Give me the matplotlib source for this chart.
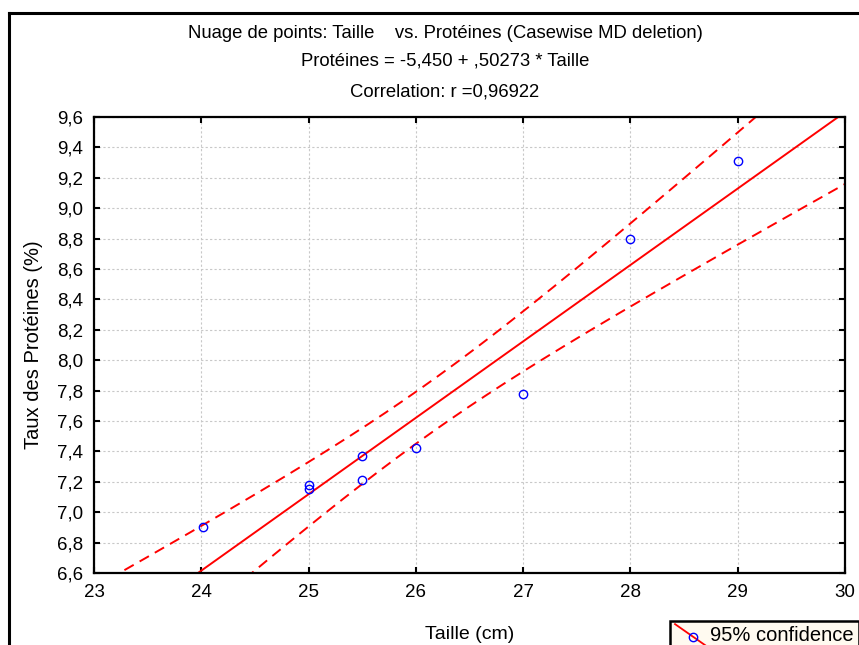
import numpy as np
import matplotlib
matplotlib.use("Agg")
import matplotlib.pyplot as plt
from matplotlib.lines import Line2D
from matplotlib.legend_handler import HandlerLine2D
from matplotlib.ticker import FuncFormatter

plt.rcParams['font.family'] = ['Liberation Sans', 'DejaVu Sans']

# data
taille = [24.02, 25.0, 25.0, 25.5, 25.5, 26.0, 27.0, 28.0, 29.0]
proteines = [6.90, 7.18, 7.15, 7.37, 7.21, 7.42, 7.78, 8.80, 9.31]

# fitted equation shown in the title
intercept = -5.450
slope = 0.50273
t_975 = 2.3646  # Student t, 7 dof

x_ticks = [23, 24, 25, 26, 27, 28, 29, 30]
y_ticks = [6.6, 6.8, 7.0, 7.2, 7.4, 7.6, 7.8, 8.0, 8.2, 8.4, 8.6, 8.8, 9.0, 9.2, 9.4, 9.6]


class HandlerDiagonal(HandlerLine2D):
    """legend handle drawn as a diagonal line with the marker in the middle"""
    def create_artists(self, legend, orig_handle, xdescent, ydescent,
                       width, height, fontsize, trans):
        x0, x1 = -xdescent, -xdescent + width
        y0, y1 = height * 1.2, -height * 0.3
        line = Line2D([x0, x1], [y0, y1], color='red', lw=1.3)
        mk = Line2D([x0 + 0.6 * width], [y0 + 0.6 * (y1 - y0)], marker='o',
                    ls='none', mfc='none', mec='blue', ms=6, mew=1)
        line.set_transform(trans)
        mk.set_transform(trans)
        return [line, mk]


fig = plt.figure(figsize=(8.59, 6.45), dpi=100)
ax = fig.add_axes([94 / 859, 1 - 573 / 645, (845 - 94) / 859, (573 - 117) / 645])

x = np.array(taille)
y = np.array(proteines)
n = len(x)
pred = intercept + slope * x
s = np.sqrt(np.sum((y - pred) ** 2) / (n - 2))
sxx = np.sum((x - x.mean()) ** 2)

xs = np.linspace(23, 30, 300)
fit = intercept + slope * xs
half = t_975 * s * np.sqrt(1 / n + (xs - x.mean()) ** 2 / sxx)

ax.plot(xs, fit, color='red', lw=1.4)
ax.plot(xs, fit + half, color='red', lw=1.4, ls=(0, (5.5, 3.5)))
ax.plot(xs, fit - half, color='red', lw=1.4, ls=(0, (5.5, 3.5)))
ax.plot(x, y, 'o', mfc='none', mec='blue', ms=6, mew=1)

ax.set_xlim(23, 30)
ax.set_ylim(6.6, 9.6)
ax.set_xticks(x_ticks)
ax.set_yticks(y_ticks)
comma = FuncFormatter(lambda v, p: f"{v:.1f}".replace('.', ','))
ax.yaxis.set_major_formatter(comma)
ax.xaxis.set_major_formatter(FuncFormatter(lambda v, p: f"{v:.0f}"))
ax.tick_params(direction='in', length=4, width=1.5, top=True, right=True,
               labelsize=13.5, pad=8)
ax.grid(True, color='#c8c8c8', ls=(0, (2, 2)), lw=0.8)
for sp in ax.spines.values():
    sp.set_linewidth(1.6)

ax.set_xlabel('Taille (cm)', fontsize=14, labelpad=18)
ax.set_ylabel('Taux des Protéines (%)', fontsize=14.5, labelpad=10)

title_kw = dict(ha='center', va='center', fontsize=13.3)
fig.text(445 / 859, 1 - 33 / 645,
         'Nuage de points: Taille    vs. Protéines (Casewise MD deletion)', **title_kw)
fig.text(445 / 859, 1 - 61 / 645, 'Protéines = -5,450 + ,50273 * Taille', **title_kw)
fig.text(445 / 859, 1 - 92 / 645, 'Correlation: r =0,96922', **title_kw)

# outer frame (left and top edges visible)
fig.add_artist(Line2D([9 / 859, 9 / 859], [0, 1 - 13 / 645], color='black', lw=2.2))
fig.add_artist(Line2D([9 / 859, 1], [1 - 13 / 645, 1 - 13 / 645], color='black', lw=2.2))

handle = Line2D([], [], color='red', marker='o', mfc='none', mec='blue')
leg = fig.legend([handle], ['95% confidence'], loc='upper left',
                 bbox_to_anchor=(670 / 859, 1 - 621 / 645), borderaxespad=0,
                 fontsize=14.5, handler_map={Line2D: HandlerDiagonal()},
                 handlelength=1.5, fancybox=False, framealpha=1,
                 borderpad=0.25, handletextpad=0.25)
leg.get_frame().set_facecolor('#fffaf0')
leg.get_frame().set_edgecolor('black')
leg.get_frame().set_linewidth(1.8)

fig.savefig('out.png', dpi=100)
